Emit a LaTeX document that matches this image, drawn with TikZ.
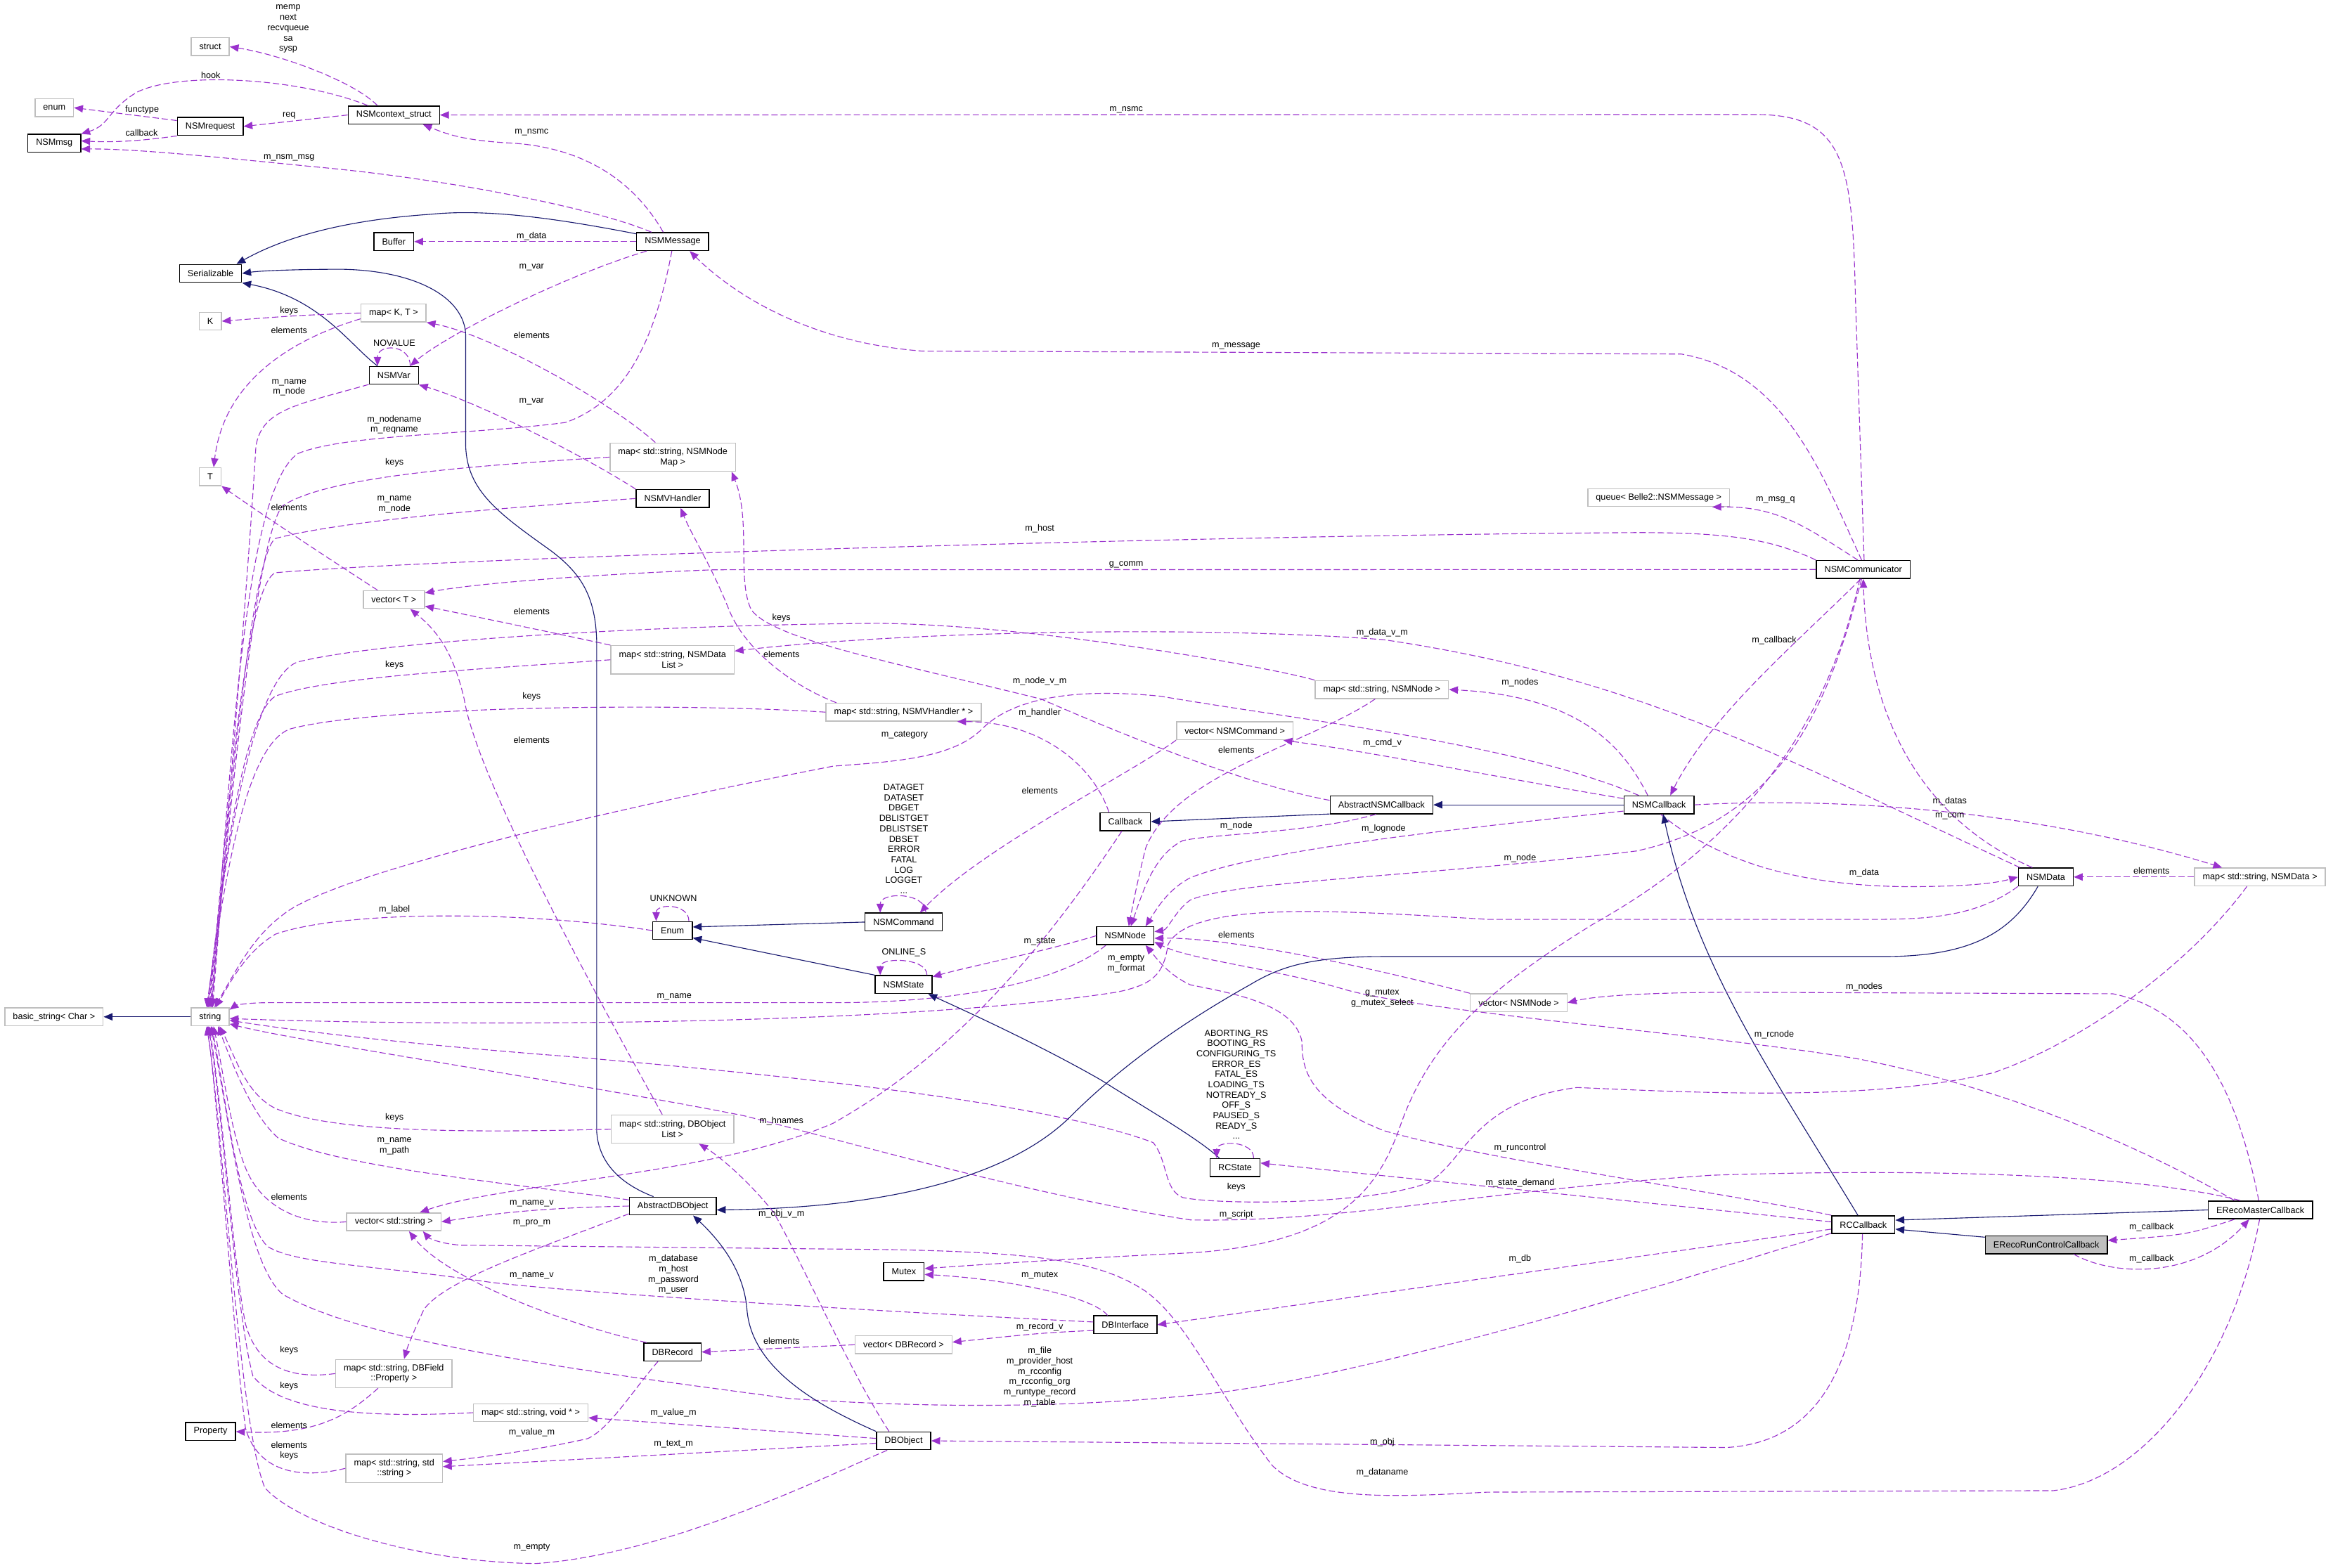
\documentclass[tikz,border=0pt]{standalone}
\usepackage{fontspec}
\setmainfont{Liberation Sans}
\usepackage{tikz}
\usetikzlibrary{arrows.meta}
\definecolor{usecol}{RGB}{154,50,205}
\definecolor{inhcol}{RGB}{25,25,112}
\definecolor{extframe}{RGB}{191,191,191}
\definecolor{selfill}{RGB}{191,191,191}
\newcommand{\dgfont}{\fontsize{3.4}{3.95}\selectfont}
\tikzset{
  cls/.style={rectangle, draw=black, fill=white, line width=0.4pt, align=center,
    inner xsep=3.1pt, inner ysep=0.6pt, minimum height=2.4mm, font=\dgfont},
  extcls/.style={cls, draw=extframe},
  ext2/.style={extcls, minimum height=3.8mm},
  selcls/.style={cls, fill=selfill},
  usage/.style={-{Triangle[length=3.4pt,width=2.8pt]}, draw=usecol, line width=0.3pt,
    dash pattern=on 2.4pt off 1.1pt},
  inherit/.style={-{Triangle[length=3.4pt,width=2.8pt]}, draw=inhcol, line width=0.3pt},
  lbl/.style={font=\dgfont, align=center, inner sep=0pt}
}
\begin{document}
\begin{tikzpicture}[x=0.2mm, y=-0.2mm]
\useasboundingbox (0,0) rectangle (1568,1054);
\fill[white] (0,0) rectangle (1568,1054);
% classes
\node[extcls] (nstruct) at (141.3,31.4) {struct};
\node[extcls] (nenum) at (36.5,72.4) {enum};
\node[cls] (nsmmsg) at (36.5,96.3) {NSMmsg};
\node[cls] (nsmrequest) at (141.3,85) {NSMrequest};
\node[cls] (nsmctx) at (264.7,77.3) {NSMcontext\_struct};
\node[cls] (nsmmessage) at (452.1,162.4) {NSMMessage};
\node[cls] (buffer) at (264.7,162.4) {Buffer};
\node[cls] (serializable) at (141.5,183.8) {Serializable};
\node[extcls] (tk) at (141.3,215.9) {K};
\node[extcls] (mapkt) at (264.5,210.4) {map< K, T >};
\node[cls] (nsmvar) at (264.7,252.3) {NSMVar};
\node[extcls] (tt) at (141.3,320.4) {T};
\node[ext2] (mapnodemap) at (452.2,307.3) {map< std::string, NSMNode\\Map >};
\node[cls] (nsmvhandler) at (452.1,335.1) {NSMVHandler};
\node[extcls] (vect) at (264.7,403) {vector< T >};
\node[ext2] (mapdatalist) at (452,443.5) {map< std::string, NSMData\\List >};
\node[extcls] (maphandler) at (607.3,478.7) {map< std::string, NSMVHandler * >};
\node[extcls] (veccmd) at (829.9,491.3) {vector< NSMCommand >};
\node[cls] (callback) at (756.3,552.3) {Callback};
\node[cls] (nsmcommand) at (607.3,619.8) {NSMCommand};
\node[cls] (enumcls) at (452,625.5) {Enum};
\node[cls] (nsmnode) at (756.3,629) {NSMNode};
\node[cls] (nsmstate) at (607.3,661.8) {NSMState};
\node[cls] (absnsmcb) at (928.5,541) {AbstractNSMCallback};
\node[cls] (nsmcb) at (1115,541) {NSMCallback};
\node[cls] (nsmcomm) at (1252.3,382.8) {NSMCommunicator};
\node[extcls] (queuemsg) at (1114.8,334.5) {queue< Belle2::NSMMessage >};
\node[extcls] (mapnode) at (928.7,463.5) {map< std::string, NSMNode >};
\node[cls] (nsmdata) at (1375,589.5) {NSMData};
\node[extcls] (mapdata) at (1518.9,589.5) {map< std::string, NSMData >};
\node[extcls] (vecnode) at (1020.7,674) {vector< NSMNode >};
\node[cls] (rcstate) at (830.1,784.8) {RCState};
\node[cls] (rccb) at (1252.3,823.2) {RCCallback};
\node[cls] (mastercb) at (1519.2,813.3) {ERecoMasterCallback};
\node[selcls] (runctrlcb) at (1375.3,836.7) {ERecoRunControlCallback};
\node[ext2] (mapobjlist) at (452,759) {map< std::string, DBObject\\List >};
\node[cls] (absdbobj) at (452.2,810.7) {AbstractDBObject};
\node[cls] (mutex) at (607.5,854.7) {Mutex};
\node[cls] (dbinterface) at (756.3,890.5) {DBInterface};
\node[extcls] (vecrecord) at (607.3,903.9) {vector< DBRecord >};
\node[cls] (dbrecord) at (452,908.8) {DBRecord};
\node[cls] (dbobject) at (607.3,968.5) {DBObject};
\node[extcls] (basicstr) at (36.3,683.5) {basic\_string< Char >};
\node[extcls] (str) at (141.2,683.5) {string};
\node[extcls] (vecstr) at (264.7,821.3) {vector< std::string >};
\node[ext2] (mapprop) at (264.7,923.3) {map< std::string, DBField\\::Property >};
\node[extcls] (mapvoid) at (356.7,949.6) {map< std::string, void * >};
\node[cls] (property) at (141.5,962.3) {Property};
\node[ext2] (mapstrstr) at (264.9,987) {map< std::string, std\\::string >};

% NSM context and message
\draw[usage] (nsmctx.150) .. controls (238,55) and (190,37) .. (nstruct.east);
\draw[usage] (nsmctx.160) .. controls (200,52) and (120,48) .. (92,62) .. controls (72,74) and (74,84) .. (nsmmsg.north east);
\draw[usage] (nsmrequest.170) -- (nenum.east);
\draw[usage] (nsmrequest.south west) .. controls (100,94) and (80,96) .. (nsmmsg.5);
\draw[usage] (nsmctx.west) -- (nsmrequest.east);
\draw[usage] (nsmmessage.135) .. controls (425,120) and (390,98) .. (340,96) .. controls (310,94) and (300,90) .. (nsmctx.-18);
\draw[usage] (nsmmessage.156) .. controls (400,140) and (300,120) .. (210,112) .. controls (140,105) and (90,100) .. (nsmmsg.-12);
\draw[inherit] (nsmmessage.168) .. controls (380,148) and (330,140) .. (290,144) .. controls (230,148) and (190,160) .. (serializable.20);
\draw[usage] (nsmmessage.west) -- (buffer.east);
\draw[usage] (nsmmessage.-160) .. controls (380,185) and (300,225) .. (nsmvar.30);
\draw[usage] (nsmmessage.-95) .. controls (440,230) and (420,270) .. (380,284) .. controls (320,292) and (230,292) .. (200,305) .. controls (165,330) and (156,500) .. (str.80);

% NSMVar and templates
\draw[inherit] (nsmvar.150) .. controls (235,232) and (215,200) .. (serializable.south east);
\draw[usage] (nsmvar.30) .. controls +(0,-15) and +(0,-15) .. (nsmvar.150);
\draw[usage] (mapkt.west) .. controls (200,212) .. (tk.east);
\draw[usage] (mapkt.-170) .. controls (190,230) and (150,260) .. (tt.70);
\draw[usage] (nsmvar.-160) .. controls (200,272) and (176,275) .. (172,300) .. controls (166,400) and (152,560) .. (str.75);
\draw[usage] (mapnodemap.140) .. controls (410,270) and (330,225) .. (mapkt.south east);
\draw[usage] (nsmvhandler.north west) .. controls (390,305) and (320,270) .. (nsmvar.south east);
\draw[usage] (mapnodemap.west) .. controls (320,313) and (220,320) .. (190,340) .. controls (172,360) and (154,550) .. (str.85);
\draw[usage] (nsmvhandler.west) .. controls (330,342) and (230,350) .. (185,362) .. controls (168,375) and (153,560) .. (str.90);
\draw[usage] (vect.150) .. controls (220,375) and (175,345) .. (tt.south east);

% NSMCommunicator
\draw[usage] (nsmcomm.85) -- (1247,200) .. controls (1245,110) and (1240,77) .. (1180,77) -- (nsmctx.east);
\draw[usage] (nsmcomm.100) .. controls (1225,320) and (1200,250) .. (1130,238) -- (620,236) .. controls (540,230) and (490,195) .. (nsmmessage.-29);
\draw[usage] (nsmcomm.120) .. controls (1215,355) and (1195,340) .. (queuemsg.-10);
\draw[usage] (nsmcomm.north west) .. controls (1190,362) and (1160,358) .. (1100,358) .. controls (800,360) and (300,375) .. (185,385) .. controls (164,395) and (152,560) .. (str.95);
\draw[usage] (nsmcomm.west) -- (480,383) .. controls (400,386) and (320,392) .. (vect.12);
\draw[usage] (nsmcomm.-105) .. controls (1210,430) and (1150,480) .. (nsmcb.40);
\draw[usage] (nsmcomm.-100) .. controls (1230,470) and (1200,550) .. (1100,572) .. controls (950,590) and (830,592) .. (800,605) .. controls (790,612) and (785,625) .. (nsmnode.8);
\draw[usage] (nsmcomm.-110) .. controls (1230,480) and (1180,560) .. (1071,621) .. controls (1000,665) and (960,700) .. (940,760) .. controls (925,800) and (900,835) .. (803,842) .. controls (720,846) and (660,850) .. (mutex.8);
\draw[usage] (nsmdata.145) .. controls (1290,550) and (1255,480) .. (nsmcomm.south);

% NSMCallback
\draw[inherit] (nsmcb.west) -- (absnsmcb.east);
\draw[inherit] (absnsmcb.-170) -- (callback.east);
\draw[usage] (nsmcb.140) .. controls (1090,500) and (1060,468) .. (mapnode.east);
\draw[usage] (nsmcb.170) .. controls (1020,525) and (920,505) .. (veccmd.-11);
\draw[usage] (nsmcb.155) .. controls (1020,500) and (880,485) .. (780,468) .. controls (720,462) and (680,470) .. (660,490) .. controls (640,510) and (600,512) .. (560,515) .. controls (380,550) and (220,590) .. (190,615) .. controls (170,630) and (160,650) .. (str.65);
\draw[usage] (nsmcb.-170) .. controls (1000,555) and (850,570) .. (800,590) .. controls (785,598) and (778,610) .. (nsmnode.25);
\draw[usage] (nsmcb.east) .. controls (1250,535) and (1380,548) .. (mapdata.166);
\draw[usage] (nsmcb.-80) .. controls (1150,575) and (1200,595) .. (1280,596) .. controls (1320,596) and (1340,594) .. (nsmdata.west);
\draw[usage] (mapdata.west) -- (nsmdata.east);
\draw[usage] (nsmdata.160) .. controls (1200,510) and (1100,455) .. (930,430) .. controls (800,420) and (600,425) .. (mapdatalist.8);
\draw[usage] (absnsmcb.175) .. controls (850,530) and (780,505) .. (700,470) .. controls (600,445) and (520,430) .. (505,410) .. controls (495,390) and (505,350) .. (mapnodemap.-14);
\draw[usage] (absnsmcb.-120) .. controls (880,560) and (820,560) .. (795,565) .. controls (775,575) and (768,600) .. (nsmnode.60);
\draw[usage] (mapnode.north west) .. controls (860,450) and (700,420) .. (590,419) .. controls (450,420) and (260,430) .. (200,445) .. controls (172,455) and (152,560) .. (str.105);
\draw[usage] (mapnode.-125) .. controls (880,500) and (790,520) .. (770,570) .. controls (765,590) and (762,605) .. (nsmnode.70);

% commands, states, handlers
\draw[usage] (veccmd.-171) .. controls (760,520) and (660,570) .. (nsmcommand.30);
\draw[usage] (nsmcommand.23) .. controls +(0,-14) and +(0,-14) .. (nsmcommand.158);
\draw[inherit] (nsmcommand.west) -- (enumcls.10);
\draw[inherit] (nsmstate.north west) -- (enumcls.-20);
\draw[usage] (nsmstate.22) .. controls +(0,-12) and +(0,-12) .. (nsmstate.158);
\draw[usage] (enumcls.30) .. controls +(0,-12) and +(0,-12) .. (enumcls.150);
\draw[usage] (enumcls.west) .. controls (350,612) and (230,612) .. (185,628) .. controls (165,640) and (155,660) .. (str.60);
\draw[usage] (callback.150) .. controls (735,515) and (700,485) .. (maphandler.-10);
\draw[usage] (callback.-110) .. controls (700,640) and (640,710) .. (560,755) .. controls (480,790) and (340,795) .. (vecstr.20);
\draw[usage] (maphandler.172) .. controls (530,460) and (500,435) .. (490,410) .. controls (478,380) and (465,360) .. (nsmvhandler.-50);
\draw[usage] (maphandler.west) .. controls (450,472) and (250,475) .. (195,490) .. controls (167,500) and (152,580) .. (str.110);
\draw[usage] (mapdatalist.north west) .. controls (370,425) .. (vect.-12);
\draw[usage] (mapdatalist.west) .. controls (320,450) and (220,455) .. (185,468) .. controls (166,480) and (152,560) .. (str.100);
\draw[usage] (mapobjlist.125) .. controls (390,650) and (320,520) .. (312,470) .. controls (305,440) and (295,425) .. (vect.-30);

% NSMNode and NSMData
\draw[usage] (nsmnode.west) .. controls (700,640) and (650,650) .. (nsmstate.15);
\draw[usage] (nsmnode.-154) .. controls (720,655) and (660,674) .. (560,674) -- (180,674) .. controls (165,674) and (158,676) .. (str.20);
\draw[usage] (nsmdata.south west) .. controls (1330,615) and (1300,618) .. (1260,618) -- (1000,618) .. controls (900,612) and (800,605) .. (785,635) .. controls (782,655) and (775,662) .. (750,667) .. controls (600,690) and (300,690) .. (str.-5);
\draw[usage] (vecnode.north west) .. controls (900,645) and (820,630) .. (nsmnode.-5);

% run control
\draw[inherit] (rccb.120) .. controls (1190,720) and (1140,650) .. (nsmcb.-66);
\draw[inherit] (rcstate.149) .. controls (805,765) and (770,745) .. (740,726) .. controls (700,703) and (650,680) .. (nsmstate.-21);
\draw[usage] (rcstate.27) .. controls +(0,-12) and +(0,-12) .. (rcstate.153);
\draw[usage] (rccb.175) -- (rcstate.10);
\draw[inherit] (mastercb.west) -- (rccb.8);
\draw[inherit] (runctrlcb.173) -- (rccb.-8);
\draw[usage] (mastercb.-160) .. controls (1470,830) .. (runctrlcb.4);
\draw[usage] (runctrlcb.-19) .. controls (1420,858) and (1475,860) .. (mastercb.-140);
\draw[usage] (mastercb.100) .. controls (1505,740) and (1480,680) .. (1420,668) -- (1170,667) .. controls (1100,667) and (1070,670) .. (vecnode.east);
\draw[usage] (mastercb.160) .. controls (1420,760) and (1330,728) .. (1250,712) .. controls (1150,695) and (950,680) .. (900,664) .. controls (850,650) and (800,645) .. (nsmnode.-12);
\draw[usage] (rccb.north west) .. controls (1150,800) and (1000,780) .. (930,760) .. controls (880,740) and (875,720) .. (875,700) .. controls (870,675) and (830,668) .. (800,662) .. controls (785,655) and (778,645) .. (nsmnode.-25);
\draw[usage] (mastercb.155) .. controls (1440,790) and (1300,785) .. (1150,790) .. controls (1000,800) and (900,822) .. (800,820) .. controls (700,805) and (560,765) .. (500,750) .. controls (400,730) and (200,700) .. (str.-20);
\draw[usage] (mapdata.-144) .. controls (1470,650) and (1400,700) .. (1340,721) .. controls (1260,740) and (1150,735) .. (1060,731) .. controls (990,740) and (985,780) .. (960,795) .. controls (920,810) and (820,810) .. (795,805) .. controls (782,800) and (785,780) .. (775,768) .. controls (700,740) and (520,722) .. (380,710) .. controls (250,700) and (180,690) .. (str.-10);
\draw[usage] (rccb.-172) -- (dbinterface.east);
\draw[usage] (rccb.-95) .. controls (1250,920) and (1220,970) .. (1160,973) -- (dbobject.east);
\draw[usage] (rccb.-165) .. controls (1100,870) and (900,930) .. (800,938) .. controls (700,948) and (600,945) .. (530,940) .. controls (420,925) and (250,905) .. (190,870) .. controls (166,850) and (155,760) .. (str.-85);
\draw[usage] (mastercb.-95) .. controls (1500,920) and (1440,995) .. (1380,1002) -- (1000,1003) .. controls (940,1006) and (880,1010) .. (855,985) .. controls (820,940) and (800,890) .. (770,868) .. controls (740,848) and (700,842) .. (600,840) -- (310,837) .. controls (295,836) and (288,832) .. (vecstr.-18);

% database classes
\draw[inherit] (nsmdata.-130) .. controls (1350,630) and (1320,643) .. (1265,643) -- (930,643) .. controls (880,643) and (860,650) .. (840,662) .. controls (790,690) and (750,720) .. (720,750) .. controls (680,790) and (600,812) .. (absdbobj.-5);
\draw[inherit] (absdbobj.154) .. controls (415,795) and (402,780) .. (401,760) -- (401,430) .. controls (400,400) and (390,385) .. (370,370) .. controls (335,345) and (314,330) .. (313,300) -- (313,225) .. controls (312,200) and (280,182) .. (230,181) .. controls (200,181) and (175,182) .. (serializable.east);
\draw[usage] (dbinterface.152) .. controls (735,872) and (680,860) .. (mutex.-8);
\draw[usage] (dbinterface.-170) .. controls (700,896) .. (vecrecord.3);
\draw[usage] (vecrecord.west) -- (dbrecord.east);
\draw[usage] (dbinterface.175) .. controls (600,882) and (400,870) .. (330,862) .. controls (250,850) and (200,850) .. (180,838) .. controls (161,820) and (152,740) .. (str.-80);
\draw[usage] (dbrecord.160) .. controls (380,890) and (300,860) .. (vecstr.-32);
\draw[usage] (absdbobj.west) .. controls (360,812) and (330,816) .. (vecstr.east);
\draw[usage] (absdbobj.-170) .. controls (360,840) and (300,860) .. (285,880) .. controls (278,895) and (274,905) .. (mapprop.55);
\draw[usage] (absdbobj.172) .. controls (340,795) and (230,785) .. (187,765) .. controls (170,750) and (158,720) .. (str.-50);
\draw[usage] (mapobjlist.west) .. controls (300,762) and (220,760) .. (185,745) .. controls (165,735) and (158,710) .. (str.-45);
\draw[usage] (vecstr.west) .. controls (200,824) and (175,810) .. (165,785) .. controls (155,760) and (150,720) .. (str.-70);
\draw[usage] (mapprop.west) .. controls (190,928) and (172,915) .. (165,890) .. controls (157,850) and (150,750) .. (str.-95);
\draw[usage] (mapprop.-137) .. controls (235,950) and (215,965) .. (property.east);
\draw[usage] (mapvoid.west) .. controls (250,953) and (190,950) .. (170,925) .. controls (158,880) and (150,750) .. (str.-100);
\draw[usage] (mapstrstr.west) .. controls (195,996) and (172,985) .. (165,960) .. controls (157,900) and (148,760) .. (str.-105);
\draw[usage] (dbobject.175) -- (mapvoid.-5);
\draw[usage] (dbrecord.-147) .. controls (425,935) and (410,960) .. (395,967) .. controls (360,975) and (320,980) .. (mapstrstr.8);
\draw[usage] (dbobject.-175) -- (mapstrstr.2);
\draw[usage] (dbobject.-150) .. controls (560,990) and (450,1045) .. (360,1051) .. controls (280,1050) and (200,1025) .. (178,1000) .. controls (161,960) and (150,760) .. (str.-110);
\draw[inherit] (dbobject.north west) .. controls (550,945) and (505,920) .. (502,880) .. controls (500,855) and (485,835) .. (absdbobj.-25);
\draw[usage] (dbobject.147) .. controls (570,920) and (540,850) .. (520,815) .. controls (500,790) and (480,775) .. (mapobjlist.-29);
\draw[inherit] (str.west) -- (basicstr.east);

% labels
\node[lbl] (lb01) at (193.7,19.5) {memp\\next\\recvqueue\\sa\\sysp};
\node[lbl] (lb02) at (141.6,50.6) {hook};
\node[lbl] (lb03) at (95.5,74) {functype};
\node[lbl] (lb04) at (95.2,89.2) {callback};
\node[lbl] (lb05) at (194.3,77.6) {req};
\node[lbl] (lb06) at (357.3,89.2) {m\_nsmc};
\node[lbl] (lb07) at (194.3,105.9) {m\_nsm\_msg};
\node[lbl] (lb08) at (357.3,158.6) {m\_data};
\node[lbl] (lb09) at (357.3,179.9) {m\_var};
\node[lbl] (lb10) at (265,285.5) {m\_nodename\\m\_reqname};
\node[lbl] (lb11) at (265,230.5) {NOVALUE};
\node[lbl] (lb12) at (194.3,209) {keys};
\node[lbl] (lb13) at (194.3,222) {elements};
\node[lbl] (lb14) at (194.3,260.5) {m\_name\\m\_node};
\node[lbl] (lb15) at (357.3,225.2) {elements};
\node[lbl] (lb16) at (357.3,270) {m\_var};
\node[lbl] (lb17) at (265.1,310.9) {keys};
\node[lbl] (lb18) at (265.1,339) {m\_name\\m\_node};
\node[lbl] (lb19) at (698.8,355.2) {m\_host};
\node[lbl] (lb20) at (756.9,379.4) {g\_comm};
\node[lbl] (lb21) at (357.3,411.2) {elements};
\node[lbl] (lb22) at (265.1,447.1) {keys};
\node[lbl] (lb23) at (357.3,468.3) {keys};
\node[lbl] (lb24) at (357.3,497.5) {elements};
\node[lbl] (lb25) at (194.3,341.3) {elements};
\node[lbl] (lb26) at (525.2,415.6) {keys};
\node[lbl] (lb27) at (525.2,439.8) {elements};
\node[lbl] (lb28) at (929,425.2) {m\_data\_v\_m};
\node[lbl] (lb29) at (698.8,457.8) {m\_node\_v\_m};
\node[lbl] (lb30) at (698.8,479.3) {m\_handler};
\node[lbl] (lb31) at (608,493.8) {m\_category};
\node[lbl] (lb32) at (1021.6,459) {m\_nodes};
\node[lbl] (lb33) at (929,499.4) {m\_cmd\_v};
\node[lbl] (lb34) at (830.9,504.3) {elements};
\node[lbl] (lb35) at (698.8,531.5) {elements};
\node[lbl] (lb36) at (607.5,563.9) {DATAGET\\DATASET\\DBGET\\DBLISTGET\\DBLISTSET\\DBSET\\ERROR\\FATAL\\LOG\\LOGGET\\...};
\node[lbl] (lb37) at (452.6,603.6) {UNKNOWN};
\node[lbl] (lb38) at (265.1,611.5) {m\_label};
\node[lbl] (lb39) at (607.5,640.2) {ONLINE\_S};
\node[lbl] (lb40) at (698.8,633) {m\_state};
\node[lbl] (lb41) at (756.9,647.7) {m\_empty\\m\_format};
\node[lbl] (lb42) at (453.2,670.2) {m\_name};
\node[lbl] (lb43) at (1192.4,430.7) {m\_callback};
\node[lbl] (lb44) at (1193.3,336.3) {m\_msg\_q};
\node[lbl] (lb45) at (756.9,73.8) {m\_nsmc};
\node[lbl] (lb46) at (830.8,232.4) {m\_message};
\node[lbl] (lb47) at (830.9,555.4) {m\_node};
\node[lbl] (lb48) at (929.9,557.3) {m\_lognode};
\node[lbl] (lb49) at (1021.6,576.8) {m\_node};
\node[lbl] (lb50) at (1310.4,538.5) {m\_datas};
\node[lbl] (lb51) at (1310.4,548.6) {m\_com};
\node[lbl] (lb52) at (1252.9,586.9) {m\_data};
\node[lbl] (lb53) at (1446,585.5) {elements};
\node[lbl] (lb54) at (830.9,628.5) {elements};
\node[lbl] (lb55) at (929,671.1) {g\_mutex\\g\_mutex\_select};
\node[lbl] (lb56) at (1252.9,663.3) {m\_nodes};
\node[lbl] (lb57) at (1192.4,695.4) {m\_rcnode};
\node[lbl] (lb58) at (830.9,729) {ABORTING\_RS\\BOOTING\_RS\\CONFIGURING\_TS\\ERROR\_ES\\FATAL\_ES\\LOADING\_TS\\NOTREADY\_S\\OFF\_S\\PAUSED\_S\\READY\_S\\...};
\node[lbl] (lb59) at (1021.6,771.5) {m\_runcontrol};
\node[lbl] (lb60) at (1021.6,795.3) {m\_state\_demand};
\node[lbl] (lb61) at (830.9,798.1) {keys};
\node[lbl] (lb62) at (830.9,816.4) {m\_script};
\node[lbl] (lb63) at (1446,824.8) {m\_callback};
\node[lbl] (lb64) at (1446,846.1) {m\_callback};
\node[lbl] (lb65) at (1021.6,846.4) {m\_db};
\node[lbl] (lb66) at (929,969.4) {m\_obj};
\node[lbl] (lb67) at (929,990) {m\_dataname};
\node[lbl] (lb68) at (698.8,925.6) {m\_file\\m\_provider\_host\\m\_rcconfig\\m\_rcconfig\_org\\m\_runtype\_record\\m\_table};
\node[lbl] (lb69) at (698.8,857.3) {m\_mutex};
\node[lbl] (lb70) at (698.8,891.8) {m\_record\_v};
\node[lbl] (lb71) at (525.2,901.6) {elements};
\node[lbl] (lb72) at (525.2,815.8) {m\_obj\_v\_m};
\node[lbl] (lb73) at (525.2,753.4) {m\_hnames};
\node[lbl] (lb74) at (452.6,856.8) {m\_database\\m\_host\\m\_password\\m\_user};
\node[lbl] (lb75) at (452.6,949.7) {m\_value\_m};
\node[lbl] (lb76) at (452.6,970.5) {m\_text\_m};
\node[lbl] (lb77) at (357.4,963) {m\_value\_m};
\node[lbl] (lb78) at (357.4,809.2) {m\_name\_v};
\node[lbl] (lb79) at (357.4,822) {m\_pro\_m};
\node[lbl] (lb80) at (357.4,857.8) {m\_name\_v};
\node[lbl] (lb81) at (357.4,1040.3) {m\_empty};
\node[lbl] (lb82) at (265.1,751.5) {keys};
\node[lbl] (lb83) at (265.1,770.6) {m\_name\\m\_path};
\node[lbl] (lb84) at (194.3,804.4) {elements};
\node[lbl] (lb85) at (194.3,907.5) {keys};
\node[lbl] (lb86) at (194.3,931.9) {keys};
\node[lbl] (lb87) at (194.3,958) {elements};
\node[lbl] (lb88) at (194.3,975.2) {elements\\keys};
\end{tikzpicture}
\end{document}
